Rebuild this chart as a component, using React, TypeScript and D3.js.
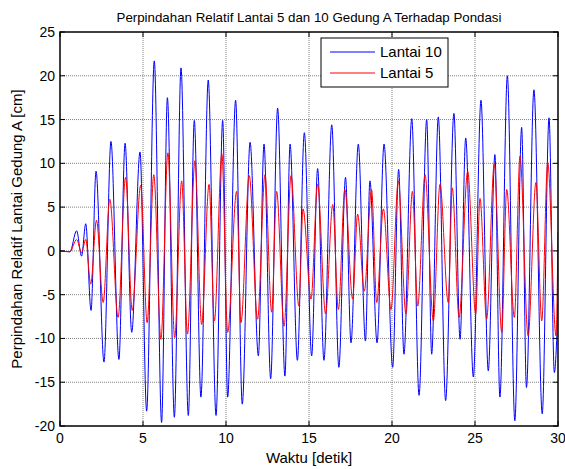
import React from "react";
import * as d3 from "d3";

// Relative displacement time histories (extrema of each cycle), time in s, value in cm
const timeLantai10 = [0, 0.6, 1.0, 1.3, 1.55, 1.87, 2.17, 2.65, 3.07, 3.55, 3.92, 4.32, 4.82, 5.22, 5.68, 6.12, 6.47, 6.89, 7.29, 7.73, 8.09, 8.49, 8.93, 9.4, 9.8, 10.1, 10.58, 10.98, 11.45, 11.95, 12.29, 12.69, 13.11, 13.55, 13.86, 14.3, 14.72, 15.16, 15.52, 15.9, 16.37, 16.8, 17.2, 17.53, 17.97, 18.4, 18.67, 19.1, 19.52, 20.04, 20.4, 20.72, 21.19, 21.63, 22.09, 22.39, 22.79, 23.23, 23.73, 24.1, 24.44, 24.9, 25.36, 25.8, 26.2, 26.5, 26.95, 27.4, 27.81, 28.1, 28.55, 29.05, 29.46, 29.78, 30];
const valueLantai10 = [0, -0.1, 2.3, -0.6, 3.1, -6.8, 9.1, -12.7, 12.5, -12.4, 12.3, -9.3, 11.3, -18.3, 21.7, -19.6, 17.5, -19.0, 20.9, -18.8, 14.9, -16.7, 19.5, -18.8, 14.9, -16.7, 17.2, -17.5, 12.4, -12.0, 12.2, -14.6, 16.3, -14.3, 12.2, -12.5, 13.5, -12.0, 9.4, -12.5, 14.4, -13.3, 8.4, -10.5, 12.2, -10.3, 8.0, -10.5, 12.2, -13.3, 9.3, -11.8, 15.1, -16.5, 15.0, -11.8, 15.3, -17.1, 15.7, -10.1, 12.9, -14.4, 17.2, -13.7, 11.0, -16.7, 20.0, -19.4, 14.1, -15.6, 18.4, -18.6, 15.2, -13.9, -6.0];

const timeLantai5 = [0, 0.6, 1.0, 1.3, 1.55, 1.85, 2.2, 2.6, 3.0, 3.5, 3.95, 4.35, 4.86, 5.25, 5.65, 6.08, 6.5, 6.91, 7.33, 7.68, 8.13, 8.53, 8.98, 9.3, 9.75, 10.1, 10.64, 10.9, 11.4, 11.9, 12.35, 12.75, 13.05, 13.5, 13.92, 14.39, 14.64, 15.12, 15.52, 16.0, 16.43, 16.77, 17.16, 17.63, 17.93, 18.33, 18.77, 19.08, 19.48, 19.94, 20.38, 20.84, 21.23, 21.55, 21.99, 22.49, 22.89, 23.39, 23.63, 24.04, 24.56, 25.04, 25.3, 25.7, 26.16, 26.61, 26.91, 27.37, 27.71, 28.2, 28.67, 29.02, 29.38, 29.88, 30];
const valueLantai5 = [0, -0.1, 1.3, -0.2, 1.3, -3.8, 3.5, -5.9, 5.9, -7.6, 8.4, -6.8, 7.5, -8.2, 8.7, -10.1, 11.2, -9.9, 8.0, -9.5, 10.3, -8.4, 7.6, -8.0, 11.1, -9.3, 6.8, -8.2, 8.6, -7.8, 8.7, -7.0, 6.8, -8.6, 8.6, -6.3, 4.8, -5.5, 7.6, -7.2, 5.3, -6.7, 7.0, -5.5, 4.2, -4.6, 7.0, -5.9, 4.8, -6.7, 8.0, -7.2, 6.8, -6.3, 8.7, -8.0, 7.6, -5.9, 7.2, -7.6, 9.1, -7.2, 6.0, -7.8, 9.9, -9.3, 7.0, -7.6, 10.8, -9.7, 7.8, -8.0, 10.1, -9.7, 2.2];

const xTicks = [0, 5, 10, 15, 20, 25, 30];
const yTicks = [-20, -15, -10, -5, 0, 5, 10, 15, 20, 25];

const seriesNames = ["Lantai 10", "Lantai 5"];
const seriesColors = ["#0000ff", "#ff0000"];

const titleText = "Perpindahan Relatif Lantai 5 dan 10 Gedung A Terhadap Pondasi";
const xLabel = "Waktu [detik]";
const yLabel = "Perpindahan Relatif Lantai Gedung A [cm]";

const W = 565;
const H = 469;
const left = 60;
const right = 558;
const top = 32;
const bottom = 426;
const FONT = "Arial, 'Liberation Sans', Helvetica, sans-serif";

export default function App() {
  const x = d3.scaleLinear().domain([0, 30]).range([left, right]);
  const y = d3.scaleLinear().domain([-20, 25]).range([bottom, top]);

  const line = d3
    .line<[number, number]>()
    .x((d) => x(d[0]))
    .y((d) => y(d[1]))
    .curve(d3.curveMonotoneX);

  const s10: [number, number][] = timeLantai10.map((t, i) => [t, valueLantai10[i]]);
  const s5: [number, number][] = timeLantai5.map((t, i) => [t, valueLantai5[i]]);

  const tickLen = 5;
  const cx = (left + right) / 2;

  return (
    <svg
      width={W}
      height={H}
      style={{ position: "absolute", left: 0, top: 0, background: "#fff" }}
      fontFamily={FONT}
    >
      <rect x={0} y={0} width={W} height={H} fill="#fff" />
      <defs>
        <clipPath id="plotClip">
          <rect x={left} y={top} width={right - left} height={bottom - top} />
        </clipPath>
      </defs>

      {/* grid */}
      <g stroke="#808080" strokeWidth={1} strokeDasharray="1 1">
        {xTicks
          .filter((t) => t > 0 && t < 30)
          .map((t) => (
            <line key={"gx" + t} x1={x(t)} x2={x(t)} y1={top} y2={bottom} />
          ))}
        {yTicks
          .filter((t) => t > -20 && t < 25)
          .map((t) => (
            <line key={"gy" + t} x1={left} x2={right} y1={y(t)} y2={y(t)} />
          ))}
      </g>

      {/* data */}
      <g clipPath="url(#plotClip)" fill="none" strokeWidth={1}>
        <path d={line(s10) || ""} stroke={seriesColors[0]} />
        <path d={line(s5) || ""} stroke={seriesColors[1]} />
      </g>

      {/* ticks on all four sides */}
      <g stroke="#000" strokeWidth={1}>
        {xTicks.map((t) => (
          <g key={"tx" + t}>
            <line x1={x(t)} x2={x(t)} y1={bottom} y2={bottom - tickLen} />
            <line x1={x(t)} x2={x(t)} y1={top} y2={top + tickLen} />
          </g>
        ))}
        {yTicks.map((t) => (
          <g key={"ty" + t}>
            <line x1={left} x2={left + tickLen} y1={y(t)} y2={y(t)} />
            <line x1={right} x2={right - tickLen} y1={y(t)} y2={y(t)} />
          </g>
        ))}
      </g>

      {/* axes box */}
      <rect
        x={left}
        y={top}
        width={right - left}
        height={bottom - top}
        fill="none"
        stroke="#000"
        strokeWidth={1.5}
      />

      {/* tick labels */}
      <g fontSize={14} fill="#000">
        {xTicks.map((t) => (
          <text key={"lx" + t} x={x(t)} y={bottom + 17} textAnchor="middle">
            {t}
          </text>
        ))}
        {yTicks.map((t) => (
          <text key={"ly" + t} x={left - 5} y={y(t) + 5} textAnchor="end">
            {t}
          </text>
        ))}
      </g>

      {/* title and axis labels */}
      <text x={cx} y={22} textAnchor="middle" fontSize={13.3} fill="#000">
        {titleText}
      </text>
      <text x={cx} y={463} textAnchor="middle" fontSize={15} fill="#000">
        {xLabel}
      </text>
      <text
        transform={`translate(22, ${(top + bottom) / 2}) rotate(-90)`}
        textAnchor="middle"
        fontSize={15}
        fill="#000"
      >
        {yLabel}
      </text>

      {/* legend */}
      <g>
        <rect x={321} y={38} width={127} height={49} fill="#fff" stroke="#000" strokeWidth={1} />
        {seriesNames.map((name, i) => (
          <g key={name}>
            <line x1={330} x2={375} y1={52 + i * 21} y2={52 + i * 21} stroke={seriesColors[i]} strokeWidth={1} />
            <text x={380} y={57 + i * 21} fontSize={15} fill="#000">
              {name}
            </text>
          </g>
        ))}
      </g>
    </svg>
  );
}
